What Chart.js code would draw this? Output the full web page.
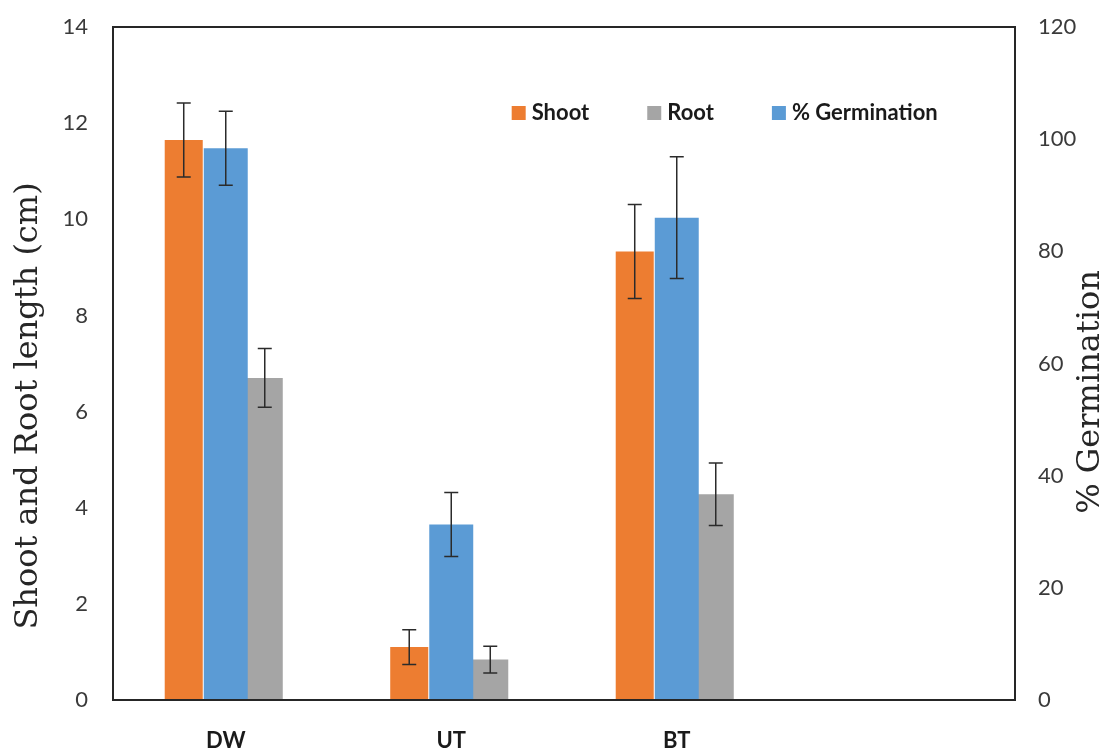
<!DOCTYPE html>
<html>
<head>
<meta charset="utf-8">
<title>Shoot, root length and germination</title>
<script src="https://cdn.jsdelivr.net/npm/chart.js@4/dist/chart.umd.min.js"></script>
<style>
  html, body { margin: 0; padding: 0; background: #ffffff; }
  #wrap { width: 1107px; height: 753px; position: relative; }
</style>
</head>
<body>
<div id="wrap"><canvas id="chart" width="1107" height="753"></canvas></div>
<script>
// Treatments (the fourth slot is left empty on purpose)
const categories = ['DW', 'UT', 'BT', ''];

// Shoot and root length (cm), with standard errors
const shootLength = [11.65, 1.10, 9.33];
const shootError  = [0.77, 0.36, 0.98];
const rootLength  = [6.70, 0.84, 4.28];
const rootError   = [0.61, 0.28, 0.65];

// Germination (%), with standard errors
const germination      = [98.4, 31.3, 86.0];
const germinationError = [6.6, 5.7, 10.85];

// Axis ranges
const lengthTicks = { min: 0, max: 14, step: 2 };
const germTicks   = { min: 0, max: 120, step: 20 };

const COLORS = { shoot: '#ED7D31', root: '#A5A5A5', germ: '#5B9BD5' };
const TICK_FONT = { family: 'Lato', size: 22 };
const INK = '#3a3a3a';

// Legend entries in their display order
const legendOrder = ['Shoot', 'Root', '% Germination'];

// White page background
const background = {
  id: 'background',
  beforeDraw(chart) {
    const ctx = chart.ctx;
    ctx.save();
    ctx.fillStyle = '#ffffff';
    ctx.fillRect(0, 0, chart.width, chart.height);
    ctx.restore();
  }
};

// Frame around the plotting area
const frame = {
  id: 'frame',
  afterDraw(chart) {
    const { left, top, right, bottom } = chart.chartArea;
    const ctx = chart.ctx;
    ctx.save();
    ctx.strokeStyle = '#262626';
    ctx.lineWidth = 2;
    ctx.strokeRect(left, top, right - left, bottom - top);
    ctx.restore();
  }
};

// Error bars (± SE) drawn from each dataset's own value scale
const errorBars = {
  id: 'errorBars',
  afterDatasetsDraw(chart) {
    const ctx = chart.ctx;
    ctx.save();
    ctx.strokeStyle = '#2b2b2b';
    ctx.lineWidth = 1.5;
    chart.data.datasets.forEach((ds, di) => {
      const meta = chart.getDatasetMeta(di);
      const scale = chart.scales[meta.yAxisID];
      meta.data.forEach((bar, i) => {
        const v = ds.data[i], e = ds.errors[i];
        if (v == null || e == null) return;
        const yTop = scale.getPixelForValue(v + e);
        const yBot = scale.getPixelForValue(v - e);
        const cap = 7;
        ctx.beginPath();
        ctx.moveTo(bar.x, yTop); ctx.lineTo(bar.x, yBot);
        ctx.moveTo(bar.x - cap, yTop); ctx.lineTo(bar.x + cap, yTop);
        ctx.moveTo(bar.x - cap, yBot); ctx.lineTo(bar.x + cap, yBot);
        ctx.stroke();
      });
    });
    ctx.restore();
  }
};

// Legend placed inside the plot, near the top
const innerLegend = {
  id: 'innerLegend',
  afterDraw(chart) {
    const ctx = chart.ctx;
    const area = chart.chartArea;
    const box = 14, gapText = 6, gapItem = 58;
    let x = area.left + (area.right - area.left) * 0.442;
    const y = area.top + 86;
    ctx.save();
    ctx.font = 'bold 22px Lato';
    ctx.textBaseline = 'middle';
    ctx.textAlign = 'left';
    legendOrder.forEach(name => {
      const ds = chart.data.datasets.find(d => d.label === name);
      ctx.fillStyle = ds.backgroundColor;
      ctx.fillRect(x, y - box / 2, box, box);
      x += box + gapText;
      ctx.fillStyle = '#1a1a1a';
      ctx.fillText(name, x, y);
      x += ctx.measureText(name).width + gapItem;
    });
    ctx.restore();
  }
};

// Rotated axis titles
const axisTitles = {
  id: 'axisTitles',
  afterDraw(chart) {
    const ctx = chart.ctx;
    ctx.save();
    ctx.font = '32px "DejaVu Serif"';
    ctx.fillStyle = '#262626';
    ctx.textAlign = 'center';
    ctx.textBaseline = 'middle';
    ctx.translate(29, 406);
    ctx.rotate(-Math.PI / 2);
    ctx.fillText('Shoot and Root length (cm)', 0, 0);
    ctx.restore();

    ctx.save();
    ctx.font = '32px "DejaVu Serif"';
    ctx.fillStyle = '#262626';
    ctx.textAlign = 'center';
    ctx.textBaseline = 'middle';
    ctx.translate(1091, 392);
    ctx.rotate(-Math.PI / 2);
    ctx.fillText('% Germination', 0, 0);
    ctx.restore();
  }
};

// Value axes: fixed width, no extra vertical padding from tick labels
function fitValueAxis(width) {
  return function (s) {
    s.width = width;
    s.paddingTop = 0;
    s.paddingBottom = 0;
  };
}

new Chart(document.getElementById('chart'), {
  type: 'bar',
  data: {
    labels: categories,
    datasets: [
      {
        label: 'Shoot', data: shootLength, errors: shootError,
        backgroundColor: COLORS.shoot, yAxisID: 'y',
        categoryPercentage: 0.559, barPercentage: 0.905
      },
      {
        label: '% Germination', data: germination, errors: germinationError,
        backgroundColor: COLORS.germ, yAxisID: 'y1',
        categoryPercentage: 0.585, barPercentage: 1.0
      },
      {
        label: 'Root', data: rootLength, errors: rootError,
        backgroundColor: COLORS.root, yAxisID: 'y',
        categoryPercentage: 0.519, barPercentage: 0.923
      }
    ]
  },
  options: {
    responsive: false,
    animation: false,
    devicePixelRatio: 1,
    layout: { padding: { top: 27, left: 0, right: 0, bottom: 0 } },
    plugins: {
      legend: { display: false },
      tooltip: { enabled: false }
    },
    scales: {
      x: {
        grid: { display: false, drawTicks: false },
        border: { display: false },
        ticks: { font: { family: 'Lato', size: 22, weight: 'bold' }, color: '#1a1a1a', padding: 28, maxRotation: 0 },
        afterFit(s) { s.height = 53; s.paddingLeft = 0; s.paddingRight = 0; }
      },
      y: {
        position: 'left',
        min: lengthTicks.min, max: lengthTicks.max,
        grid: { display: false, drawTicks: false },
        border: { display: false },
        ticks: { stepSize: lengthTicks.step, font: TICK_FONT, color: INK, padding: 25 },
        afterFit: fitValueAxis(113)
      },
      y1: {
        position: 'right',
        min: germTicks.min, max: germTicks.max,
        grid: { display: false, drawTicks: false },
        border: { display: false },
        ticks: { stepSize: germTicks.step, font: TICK_FONT, color: INK, padding: 23 },
        afterFit: fitValueAxis(92)
      }
    }
  },
  plugins: [background, errorBars, frame, innerLegend, axisTitles]
});
</script>
</body>
</html>
